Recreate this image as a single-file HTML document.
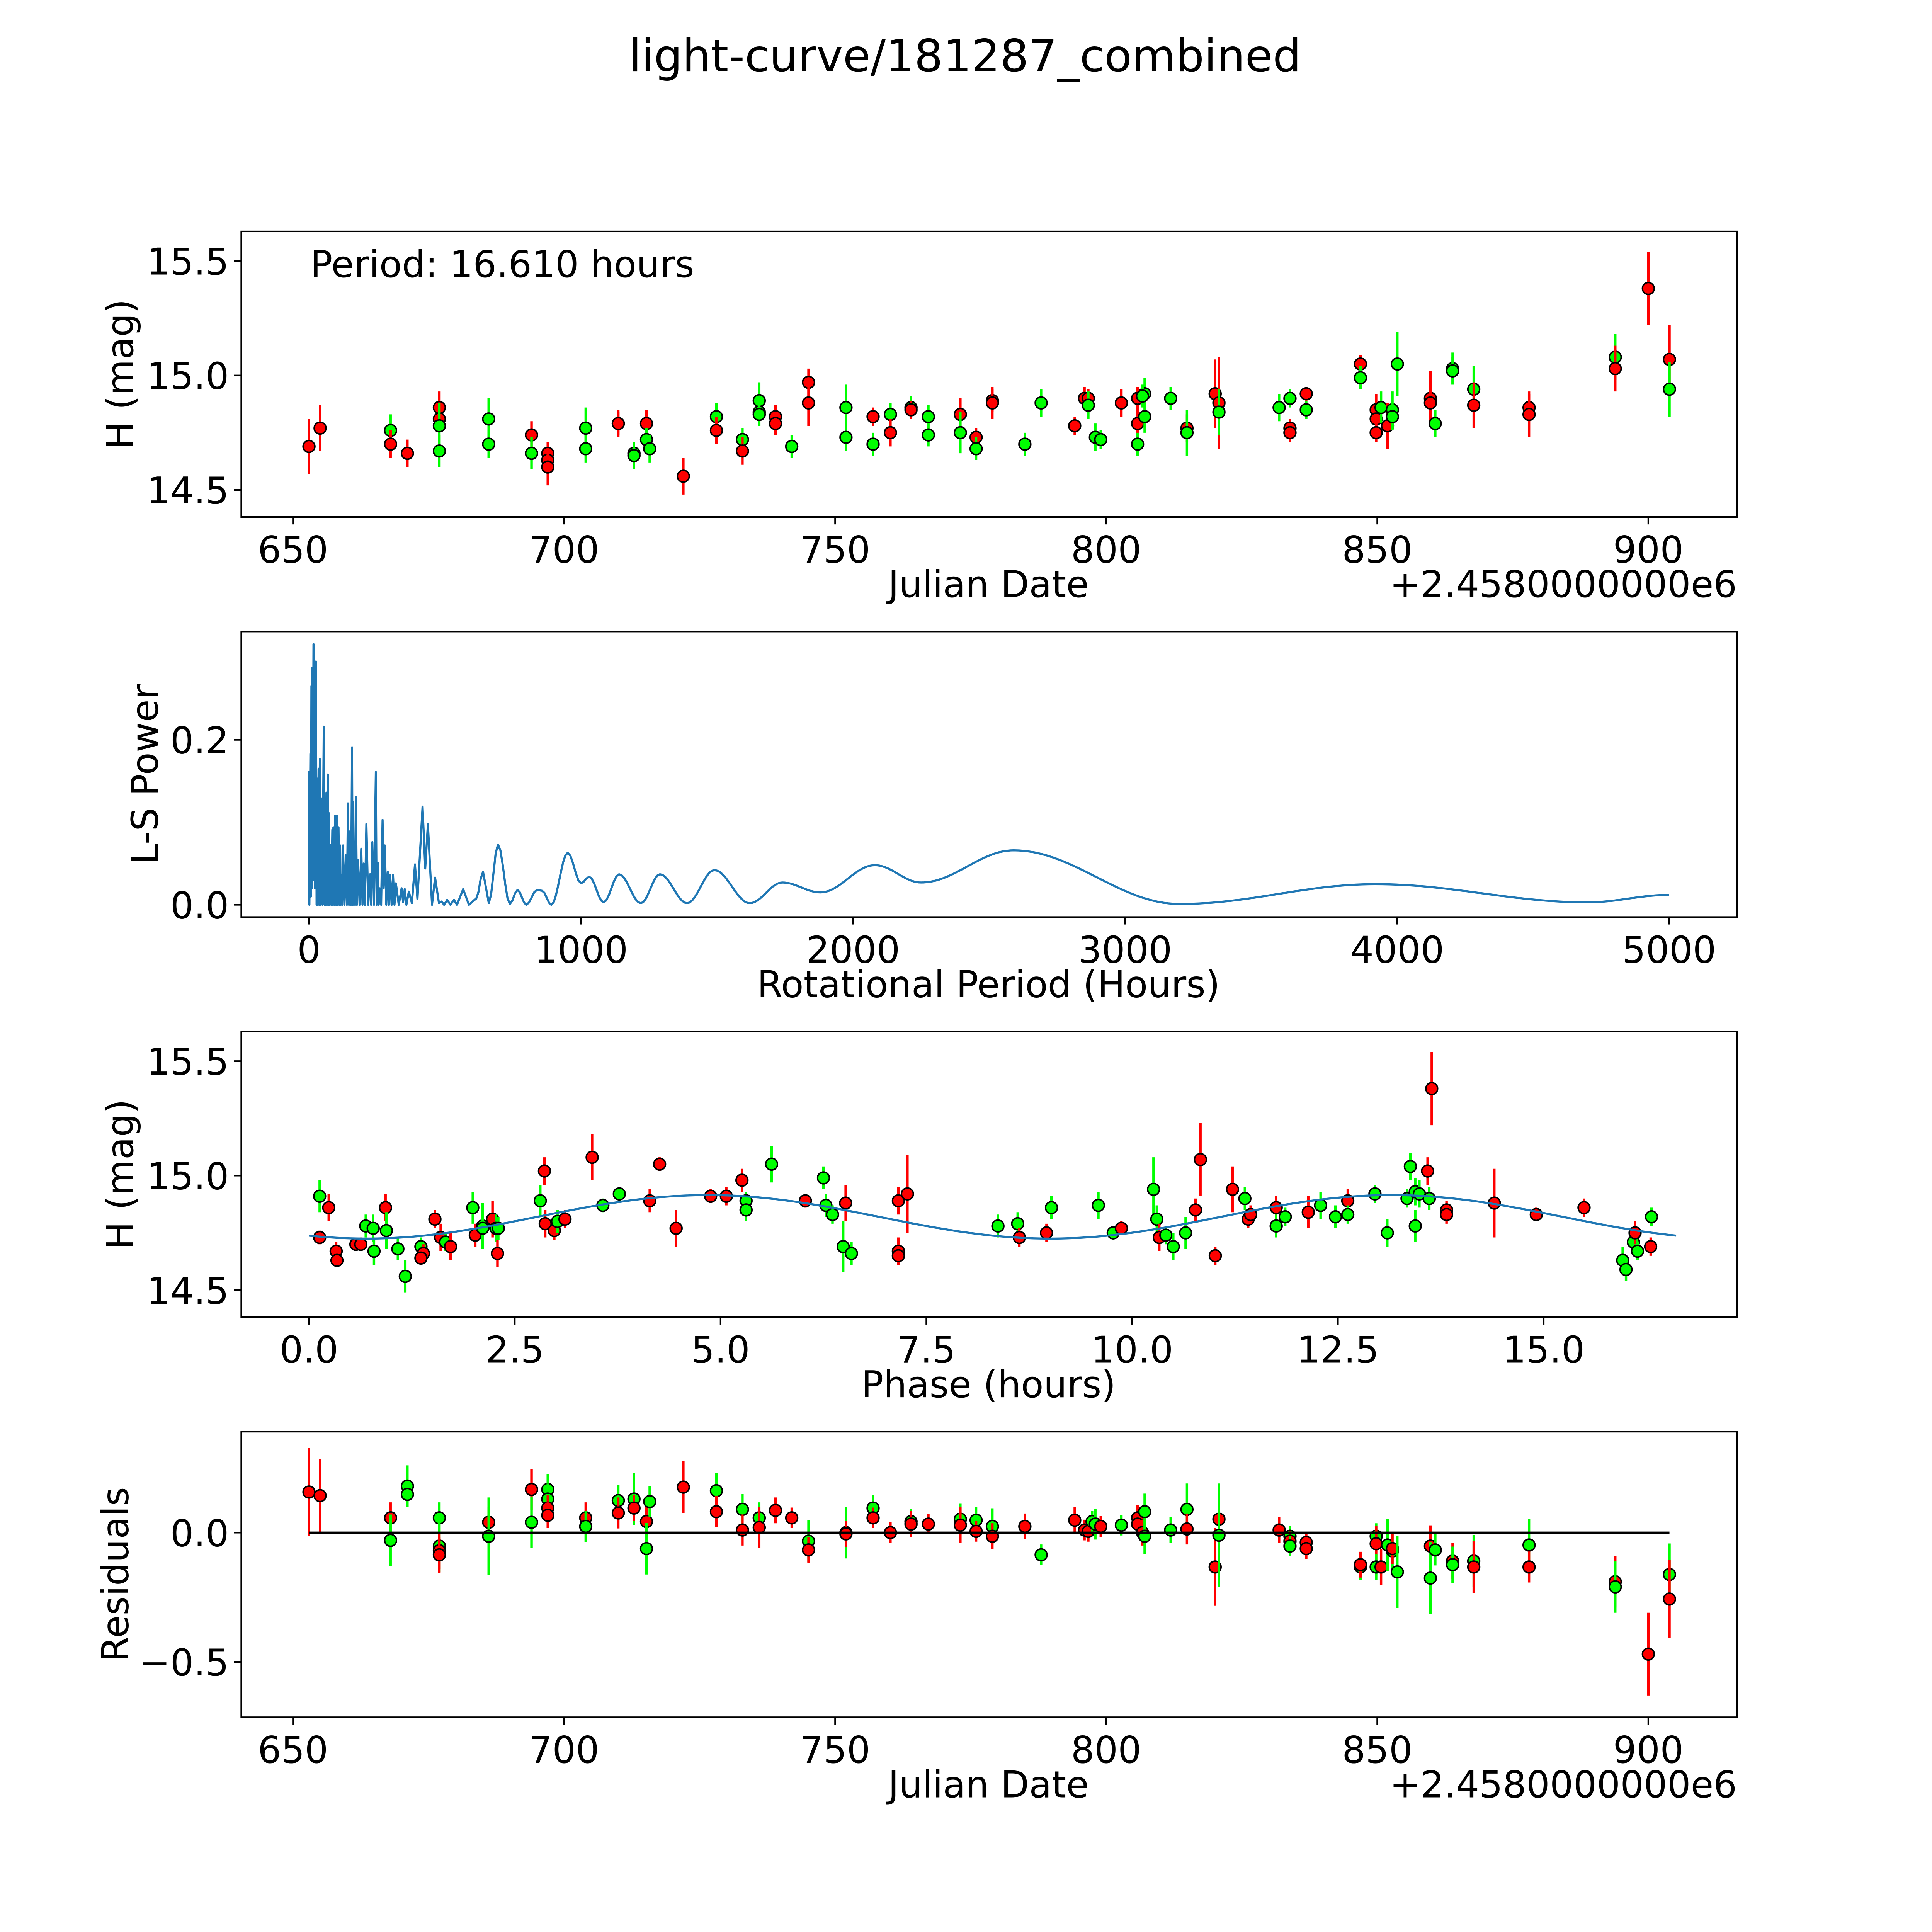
<!DOCTYPE html>
<html><head><meta charset="utf-8"><style>
html,body{margin:0;padding:0;background:#fff;overflow:hidden;width:5400px;height:5400px;}
#wrap{position:absolute;left:0;top:0;width:5400px;height:5400px;overflow:hidden;}
svg{display:block;font-family:"DejaVu Sans","Liberation Sans",sans-serif;}
</style></head><body>
<div id="wrap">
<svg id="fig" xmlns="http://www.w3.org/2000/svg" width="5400" height="5400" viewBox="0 0 1695 1695">
<rect x="0" y="0" width="1695" height="1695" fill="#fff"/>
<text x="784" y="58" font-size="36.5" text-anchor="middle">light-curve/181287_combined</text>
</svg>
</div>
<script>
// Panel 1: light curve (Julian date offset, mag, err, filter)
const lcDays=[652.95,655,668,668,671.1,677,677,677,677,686.1,686.1,694,694,697,697,697,704,704,710,710,712.9,712.9,715.2,715.2,715.8,722,728.1,728.1,732.9,732.9,736,736,736,739,739,742,745.1,745.1,752,752,757,757,760.2,760.2,764,764,767.2,767.2,773.1,773.1,776,776,779,779,785,788,794.2,796,796.7,796.7,798,799,802.8,805.8,805.8,805.8,807.1,807.1,806.7,811.9,814.9,814.9,820.1,820.8,820.8,831.9,833.9,833.9,833.9,836.9,836.9,846.9,846.9,849.8,849.8,849.8,850.7,851.9,852.8,852.8,853.7,859.8,859.8,860.7,863.9,863.9,867.8,867.8,878,878,893.9,893.9,900,903.9,903.9];
const lcMags=[14.69,14.77,14.76,14.70,14.66,14.86,14.81,14.78,14.67,14.81,14.70,14.74,14.66,14.66,14.63,14.60,14.77,14.68,14.79,14.79,14.66,14.65,14.79,14.72,14.68,14.56,14.82,14.76,14.72,14.67,14.89,14.84,14.83,14.82,14.79,14.69,14.97,14.88,14.86,14.73,14.82,14.70,14.83,14.75,14.86,14.85,14.82,14.74,14.83,14.75,14.73,14.68,14.89,14.88,14.70,14.88,14.78,14.90,14.90,14.87,14.73,14.72,14.88,14.90,14.79,14.70,14.92,14.82,14.91,14.90,14.77,14.75,14.92,14.88,14.84,14.86,14.90,14.77,14.75,14.92,14.85,15.05,14.99,14.85,14.81,14.75,14.86,14.78,14.85,14.82,15.05,14.90,14.88,14.79,15.03,15.02,14.94,14.87,14.86,14.83,15.08,15.03,15.38,15.07,14.94];
const lcErrs=[0.12,0.1,0.07,0.06,0.06,0.07,0.05,0.1,0.07,0.09,0.06,0.06,0.07,0.05,0.05,0.08,0.09,0.06,0.06,0.05,0.05,0.06,0.06,0.05,0.06,0.08,0.06,0.06,0.05,0.06,0.08,0.06,0.05,0.05,0.05,0.05,0.06,0.1,0.1,0.06,0.04,0.05,0.05,0.06,0.05,0.04,0.05,0.05,0.07,0.09,0.04,0.05,0.05,0.07,0.05,0.06,0.04,0.05,0.04,0.06,0.06,0.04,0.06,0.05,0.06,0.05,0.07,0.07,0.05,0.05,0.06,0.1,0.15,0.2,0.1,0.06,0.04,0.04,0.04,0.03,0.04,0.04,0.05,0.07,0.05,0.04,0.07,0.1,0.08,0.06,0.14,0.12,0.08,0.06,0.07,0.06,0.1,0.1,0.06,0.1,0.1,0.1,0.16,0.15,0.12];
const lcFilt="rrgrrrrggggrgrrrggrrggrggrgrgrgggrrgrrggrggrgrggrgrgrrggrrrgggrrrgggggrgrrgggrrrgrgrrrgrgggrrggggrrrgrrrg".split('');
// Panel 2: Lomb-Scargle periodogram
const lsPeriods=[0,1.5,5.3,6.8,9,10,11.3,13.6,16.6,18.5,20.3,22.6,25.6,27.9,30.1,32.4,35.4,37.7,39.9,42.2,45.2,49.7,54.3,57.3,60.3,61.8,64.1,66.3,69.3,71.6,73.9,76.1,78.4,82.1,85.9,87.8,89.7,92.7,95.7,99.5,103.2,105.5,108.5,111.5,114.5,116.8,119.1,122,125.1,130.4,135.6,139.4,143.2,147,150.7,154.5,158.3,160.5,162.8,165,167.3,169.6,172.6,176.3,180.1,186.1,192.2,196.7,201.2,205.7,211,217.8,224.6,228.3,232.9,239,245.7,248.7,252.5,256.2,260,265.3,270.5,274.3,278.8,284.1,289.4,293.9,298.4,303.7,309,314.2,319.5,330,340.6,345.9,351.9,358,367,378.3,389.6,398.7,417.5,427.3,437.1,452.2,463.5,477.8,487.6,496.6,507.9,520,532.8,544.1,566.7,587.8,608.2,614.2,639.8,660.9,694.8,738.5,766.4,798.8,838,856.8,890.8,951,1000,1030,1083,1140,1220,1290,1390,1490,1620,1740,1880,2080,2250,2590,3200,3920,4700,5000];
const lsPower=[0.162,0,0.183,0.01,0.265,0.02,0.287,0.05,0.316,0.03,0.264,0.02,0.295,0,0.153,0,0.165,0,0.177,0,0.129,0,0.216,0,0.110,0,0.136,0,0.158,0,0.111,0,0.073,0,0.091,0,0.094,0,0.108,0,0.108,0,0.094,0,0.072,0,0.036,0,0.072,0,0.06,0,0.123,0,0.089,0,0.191,0,0.125,0,0.046,0,0.131,0,0.054,0,0.068,0,0.050,0,0.098,0,0.037,0,0.076,0,0.161,0,0.051,0,0.020,0,0.103,0.02,0.072,0,0.040,0,0.036,0,0.036,0,0.026,0,0.020,0.003,0.019,0,0.016,0.002,0.049,0.007,0.119,0.044,0.098,0,0.033,0.002,0.004,0,0.006,0,0.006,0,0.019,0,0.006,0.007,0.040,0.002,0.073,0.001,0.018,0,0.018,0.017,0,0.063,0.026,0.034,0.003,0.037,0.002,0.037,0.002,0.042,0.002,0.027,0.015,0.048,0.027,0.066,0.001,0.025,0.003,0.012];
// Panel 3: phased light curve
const phPhase=[0.13,0.13,0.24,0.33,0.34,0.57,0.63,0.69,0.78,0.79,0.93,0.94,1.08,1.17,1.36,1.39,1.36,1.53,1.60,1.66,1.72,1.99,2.02,2.11,2.11,2.23,2.27,2.30,2.29,2.81,2.86,2.87,2.98,3.02,3.11,3.44,3.57,3.77,4.14,4.26,4.46,4.88,5.07,5.26,5.31,5.31,5.62,6.03,6.25,6.28,6.36,6.52,6.49,6.59,7.16,7.16,7.16,7.27,8.37,8.61,8.63,8.96,9.02,9.59,9.77,9.87,10.26,10.30,10.33,10.41,10.50,10.65,10.77,10.83,11.01,11.22,11.37,11.41,11.44,11.75,11.75,11.86,12.14,12.29,12.47,12.62,12.62,12.95,13.10,13.34,13.38,13.44,13.44,13.49,13.59,13.61,13.64,13.82,13.82,14.40,14.91,15.49,15.96,16.00,16.09,16.11,16.14,16.30,16.31];
const phMags=[14.91,14.73,14.86,14.67,14.63,14.70,14.70,14.78,14.77,14.67,14.86,14.76,14.68,14.56,14.69,14.66,14.64,14.81,14.73,14.71,14.69,14.86,14.74,14.78,14.77,14.81,14.77,14.77,14.66,14.89,15.02,14.79,14.76,14.80,14.81,15.08,14.87,14.92,14.89,15.05,14.77,14.91,14.91,14.98,14.89,14.85,15.05,14.89,14.99,14.87,14.83,14.88,14.69,14.66,14.89,14.67,14.65,14.92,14.78,14.79,14.73,14.75,14.86,14.87,14.75,14.77,14.94,14.81,14.73,14.74,14.69,14.75,14.85,15.07,14.65,14.94,14.90,14.81,14.83,14.86,14.78,14.82,14.84,14.87,14.82,14.89,14.83,14.92,14.75,14.90,15.04,14.93,14.78,14.92,15.02,14.90,15.38,14.85,14.83,14.88,14.83,14.86,14.63,14.59,14.71,14.75,14.67,14.69,14.82];
const phErrs=[0.07,0.03,0.06,0.04,0.03,0.03,0.03,0.05,0.06,0.06,0.06,0.08,0.05,0.07,0.04,0.04,0.03,0.04,0.06,0.04,0.06,0.07,0.05,0.1,0.04,0.08,0.06,0.05,0.06,0.07,0.06,0.06,0.04,0.05,0.04,0.1,0.03,0.03,0.05,0.03,0.08,0.03,0.04,0.05,0.04,0.05,0.08,0.03,0.05,0.05,0.04,0.08,0.11,0.05,0.06,0.06,0.04,0.17,0.05,0.05,0.04,0.04,0.05,0.06,0.03,0.03,0.14,0.06,0.06,0.04,0.06,0.07,0.05,0.16,0.04,0.1,0.05,0.04,0.04,0.05,0.05,0.04,0.07,0.06,0.05,0.05,0.04,0.04,0.06,0.04,0.06,0.06,0.07,0.06,0.06,0.05,0.16,0.04,0.04,0.15,0.03,0.04,0.06,0.05,0.04,0.05,0.04,0.04,0.04];
const phFilt="grrrrrrgggrggggrrrrgrgrggrggrgrrrgrrggrrrrrrgggrgggrggrrrrggrrgggrggrgggrrrrgrrrggrggrggggggggrgrrrrrrgggrgrgrr".split('');
// fitted model parameters
const modelMean=14.82, modelAmp=0.095, modelPeriod=16.61, modelPeak=4.85;
// Panel 4: residuals
const resDays=[652.95,655,668,668,671.1,671.1,677,677,677,677,686.1,686.1,694,694,697,697,697,697,704,704,710,710,712.9,712.9,715.2,715.2,715.8,722,728.1,728.1,732.9,732.9,736,736,739,742,745.1,745.1,752,752,757,757,760.2,764,764,767.2,773.1,773.1,776,776,779,779,785,788,794.2,796,796.7,797.4,798,799,802.8,805.8,805.8,806.7,807.1,807.1,811.9,814.9,814.9,820.1,820.8,820.8,831.9,833.9,833.9,833.9,836.9,836.9,846.9,846.9,849.8,849.8,849.8,850.7,851.9,852.8,852.8,853.7,859.8,859.8,860.7,863.9,863.9,867.8,867.8,878,878,893.9,893.9,900,903.9,903.9];
const resVals=[0.157,0.143,0.057,-0.03,0.18,0.148,0.057,-0.052,-0.07,-0.086,0.04,-0.014,0.167,0.04,0.167,0.13,0.095,0.067,0.057,0.024,0.124,0.076,0.13,0.095,0.043,-0.062,0.12,0.176,0.162,0.081,0.09,0.01,0.057,0.02,0.086,0.057,-0.033,-0.067,0,-0.005,0.095,0.057,0,0.043,0.033,0.033,0.052,0.029,0.048,0.005,0.024,-0.014,0.024,-0.086,0.048,0.01,0.005,0.043,0.033,0.024,0.029,0.057,0.033,0,0.081,-0.014,0.01,0.09,0.014,-0.133,0.052,-0.01,0.01,-0.014,-0.033,-0.052,-0.038,-0.062,-0.133,-0.124,-0.014,-0.043,-0.133,-0.133,-0.048,-0.071,-0.062,-0.152,-0.052,-0.176,-0.067,-0.11,-0.124,-0.11,-0.133,-0.048,-0.133,-0.19,-0.21,-0.47,-0.162,-0.257];
const resErrs=[0.17,0.14,0.06,0.1,0.08,0.05,0.06,0.1,0.07,0.07,0.06,0.15,0.08,0.1,0.06,0.06,0.05,0.05,0.06,0.06,0.06,0.06,0.1,0.05,0.06,0.1,0.06,0.1,0.07,0.06,0.06,0.06,0.06,0.08,0.05,0.04,0.08,0.05,0.1,0.05,0.05,0.04,0.04,0.05,0.05,0.04,0.06,0.07,0.05,0.04,0.07,0.05,0.05,0.04,0.05,0.04,0.04,0.04,0.06,0.04,0.04,0.05,0.04,0.05,0.07,0.07,0.05,0.1,0.06,0.15,0.12,0.2,0.05,0.04,0.04,0.04,0.04,0.04,0.05,0.05,0.05,0.07,0.05,0.07,0.1,0.07,0.06,0.14,0.08,0.14,0.06,0.07,0.07,0.1,0.1,0.1,0.06,0.1,0.1,0.16,0.12,0.15];
const resFilt="rrrgggggrrrgrgggrrrggrgrrggrgrgrgrrrgrgrgrrgrrgrgrgrrgrrrggrgrrrggggrrrgrgrgrrgrgrgrggrgrggrggrgrrgrgrgr".split('');

const xTicks1=[650,700,750,800,850,900];
const yTicks1=[14.5,15.0,15.5];
const xTicks2=[0,1000,2000,3000,4000,5000];
const yTicks2=[0.0,0.2];
const xTicks3=[0,2.5,5,7.5,10,12.5,15];
const yTicks4=[-0.5,0.0];

const NS="http://www.w3.org/2000/svg";
const svgRoot=document.getElementById('fig');
function el(tag,attrs,parent){const e=document.createElementNS(NS,tag);for(const k in attrs)e.setAttribute(k,attrs[k]);(parent||svgRoot).appendChild(e);return e;}
const AX_L=196,AX_R=1411,AX_H=232,FS=30;
function scale(d0,d1,r0,r1){return v=>r0+(v-d0)*(r1-r0)/(d1-d0);}
const COL={r:'#ff0000',g:'#00ff00'};

function axesGroup(name){
  const g=el('g',{});
  
  
  return g;
}
function spines(g,pt){
  const s=el('rect',{x:AX_L,y:pt,width:AX_R-AX_L,height:AX_H,fill:'none',stroke:'#000','stroke-width':1.3},g);
  
  
}
function xTickLabels(g,pt,ticks,sx,fmt){
  ticks.forEach(t=>{
    const x=sx(t);
    el('line',{x1:x,x2:x,y1:pt+AX_H,y2:pt+AX_H+6,stroke:'#000','stroke-width':1.3},g);
    const tx=el('text',{x:x,y:pt+AX_H+37,'font-size':FS,'text-anchor':'middle'},g);
    tx.textContent=fmt(t);
    
    
  });
}
function yTickLabels(g,pt,ticks,sy,fmt){
  ticks.forEach(t=>{
    const y=sy(t);
    el('line',{x1:AX_L-6,x2:AX_L,y1:y,y2:y,stroke:'#000','stroke-width':1.3},g);
    const tx=el('text',{x:AX_L-10,y:y+11,'font-size':FS,'text-anchor':'end'},g);
    tx.textContent=fmt(t);
    
    
  });
}
function label(g,text,x,y,rot,name){
  const t=el('text',{x:x,y:y,'font-size':FS,'text-anchor':'middle'},g);
  if(rot)t.setAttribute('transform','rotate(-90 '+x+' '+y+')');
  t.textContent=text;
  
  
}
function errPoints(g,xs,ys,es,fs,sx,sy,name){
  for(let i=0;i<xs.length;i++){
    const x=sx(xs[i]),c=COL[fs[i]]||COL.r;
    const ln=el('line',{x1:x,x2:x,y1:sy(ys[i]-es[i]),y2:sy(ys[i]+es[i]),stroke:c,'stroke-width':2},g);
    
    
    const p=el('circle',{cx:x,cy:sy(ys[i]),r:4.8,fill:c,stroke:'#000','stroke-width':1.2},g);
    
    
  }
}
const fmt1=v=>v.toFixed(1).replace('-','\u2212');

// ---- Panel 1
let pTop=188;
let g=axesGroup('light-curve-axes');
let sx=scale(650,900,238,1339), sy=scale(15.5,14.5,pTop+24,pTop+210);
errPoints(g,lcDays,lcMags,lcErrs,lcFilt,sx,sy,'light-curve');
spines(g,pTop);
xTickLabels(g,pTop,xTicks1,sx,v=>String(v));
yTickLabels(g,pTop,yTicks1,sy,fmt1);
label(g,'H (mag)',108,pTop+116,true,'y-axis-title');
label(g,'Julian Date',803,pTop+297,false,'x-axis-title');
let off=el('text',{x:AX_R,y:pTop+297,'font-size':FS,'text-anchor':'end'},g);off.textContent='+2.4580000000e6';


let per=el('text',{x:252,y:pTop+37,'font-size':FS},g);per.textContent='Period: 16.610 hours';



// ---- Panel 2
pTop=513;
g=axesGroup('periodogram-axes');
sx=scale(0,5000,251,1356); sy=scale(0,0.2,pTop+222,pTop+88);
let d='';
for(let i=0;i<lsPeriods.length;i++){
  if(i===0){d+='M'+sx(lsPeriods[0]).toFixed(2)+' '+sy(lsPower[0]).toFixed(2);continue;}
  const x0=lsPeriods[i-1],x1=lsPeriods[i],y0=lsPower[i-1],y1=lsPower[i];
  const steps=Math.max(2,Math.min(30,Math.round((sx(x1)-sx(x0))/2)));
  for(let k=1;k<=steps;k++){const f=k/steps,e=(1-Math.cos(Math.PI*f))/2;
    d+=' L'+sx(x0+(x1-x0)*f).toFixed(2)+' '+sy(y0+(y1-y0)*e).toFixed(2);}
}
let pl=el('path',{d:d,fill:'none',stroke:'#1f77b4','stroke-width':1.7,'stroke-linejoin':'round'},g);


spines(g,pTop);
xTickLabels(g,pTop,xTicks2,sx,v=>String(v));
yTickLabels(g,pTop,yTicks2,sy,fmt1);
label(g,'L-S Power',128,pTop+116,true,'y-axis-title');
label(g,'Rotational Period (Hours)',803,pTop+297,false,'x-axis-title');

// ---- Panel 3
pTop=838;
g=axesGroup('phase-axes');
sx=scale(0,15,251,1254); sy=scale(15.5,14.5,pTop+24,pTop+210);
let md='';
for(let i=0;i<=200;i++){const ph=modelPeriod*i/200;const m=modelMean+modelAmp*Math.cos(2*Math.PI*(ph-modelPeak)/(modelPeriod/2));
  md+=(i?' L':'M')+sx(ph).toFixed(2)+' '+sy(m).toFixed(2);}
errPoints(g,phPhase,phMags,phErrs,phFilt,sx,sy,'phase');
let mp=el('path',{d:md,fill:'none',stroke:'#1f77b4','stroke-width':1.7},g);


spines(g,pTop);
xTickLabels(g,pTop,xTicks3,sx,v=>v.toFixed(1));
yTickLabels(g,pTop,yTicks1,sy,fmt1);
label(g,'H (mag)',108,pTop+116,true,'y-axis-title');
label(g,'Phase (hours)',803,pTop+297,false,'x-axis-title');

// ---- Panel 4
pTop=1163;
g=axesGroup('residuals-axes');
sx=scale(650,900,238,1339); sy=scale(0,-0.5,pTop+82,pTop+187);
errPoints(g,resDays,resVals,resErrs,resFilt,sx,sy,'residual');
let zl=el('line',{x1:sx(resDays[0]),x2:sx(resDays[resDays.length-1]),y1:sy(0),y2:sy(0),stroke:'#000','stroke-width':1.7},g);


spines(g,pTop);
xTickLabels(g,pTop,xTicks1,sx,v=>String(v));
yTickLabels(g,pTop,yTicks4,sy,fmt1);
label(g,'Residuals',104,pTop+116,true,'y-axis-title');
label(g,'Julian Date',803,pTop+297,false,'x-axis-title');
off=el('text',{x:AX_R,y:pTop+297,'font-size':FS,'text-anchor':'end'},g);off.textContent='+2.4580000000e6';


</script>
</body></html>
